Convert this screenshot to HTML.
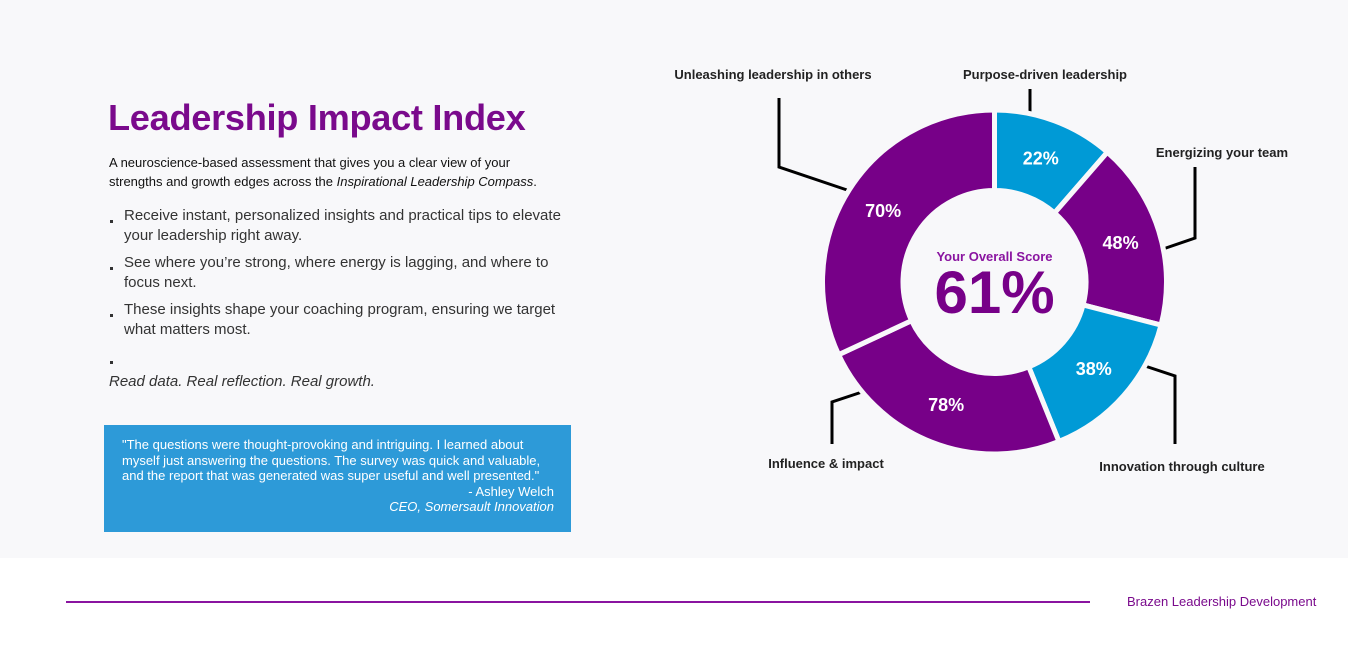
<!DOCTYPE html>
<html><head><meta charset="utf-8"><style>
html,body{margin:0;padding:0;width:1348px;height:645px;overflow:hidden;background:#fff;font-family:"Liberation Sans",Arial,sans-serif}
#top{position:absolute;left:0;top:0;width:1348px;height:558px;background:#f8f8fa}
#footer{position:absolute;left:0;top:558px;width:1346px;height:87px;background:#fff}
h1{position:absolute;left:108px;top:97px;margin:0;font-size:36.2px;font-weight:bold;color:#7a0a8c;letter-spacing:-0.3px}
.intro{position:absolute;left:109px;top:153px;font-size:13px;line-height:19px;color:#111;white-space:nowrap}
ul{position:absolute;left:109px;top:206px;margin:0;padding:0;list-style:none;width:470px}
li{position:relative;padding-left:15px;font-size:15px;line-height:20px;color:#333;margin-bottom:7px}
li:before{content:"";position:absolute;left:1px;top:14px;width:3px;height:3px;background:#333}
.tag{position:absolute;left:109px;top:373px;font-size:15px;font-style:italic;color:#333}
.quote{position:absolute;left:104px;top:425px;width:467px;height:107px;background:#2d9ad8;color:#fff;font-size:13px;line-height:15.5px;box-sizing:border-box;padding:12px 17px 0 18px}
.quote .a{text-align:right}
.brand{position:absolute;left:1127px;top:594px;font-size:13px;color:#7a0a8c}
.rule{position:absolute;left:66px;top:601px;width:1024px;height:2px;background:#8a14a0}
svg{position:absolute;left:0;top:0}
</style></head><body>
<div id="top"></div>
<div id="footer"></div>
<h1>Leadership Impact Index</h1>
<div class="intro">A neuroscience-based assessment that gives you a clear view of your<br>strengths and growth edges across the <i>Inspirational Leadership Compass</i>.</div>
<ul>
<li>Receive instant, personalized insights and practical tips to elevate your leadership right away.</li>
<li>See where you’re strong, where energy is lagging, and where to focus next.</li>
<li>These insights shape your coaching program, ensuring we target what matters most.</li>
<li>&nbsp;</li>
</ul>
<div class="tag">Read data. Real reflection. Real growth.</div>
<div class="quote">"The questions were thought-provoking and intriguing. I learned about myself just answering the questions. The survey was quick and valuable, and the report that was generated was super useful and well presented."<div class="a">- Ashley Welch</div><div class="a"><i>CEO, Somersault Innovation</i></div></div>
<div class="rule"></div>
<div class="brand">Brazen Leadership Development</div>
<svg id="chart" width="1348" height="645"></svg>
<script>
const categories=["Purpose-driven leadership","Energizing your team","Innovation through culture","Influence & impact","Unleashing leadership in others"];
const scores=[22,48,38,78,70];
const spans=[41,63.5,53.5,87,115];
const overall=61;
const NS="http://www.w3.org/2000/svg";
const svg=document.getElementById('chart');
const cx=994.5,cy=282,R=172,r=91.5;
const total=spans.reduce((a,b)=>a+b,0);
function ang(v){return v/total*360;}
function pt(a,rad){const t=(a-90)*Math.PI/180;return [cx+rad*Math.cos(t),cy+rad*Math.sin(t)];}
function mk(tag,attrs){const e=document.createElementNS(NS,tag);for(const k in attrs)e.setAttribute(k,attrs[k]);svg.appendChild(e);return e;}
const leaders=[
 [[1030,89],[1030,113]],
 [[1195,167],[1195,238],[1163,249]],
 [[1145,366],[1175,376],[1175,444]],
 [[832,444],[832,402],[862,392]],
 [[779,98],[779,167],[850,191]]];
leaders.forEach(p=>{const l=mk('polyline',{points:p.map(q=>q.join(',')).join(' '),fill:'none',stroke:'#000','stroke-width':3});

});
let acc=0;
scores.forEach((s,i)=>{
 const a0=ang(acc),a1=ang(acc+spans[i]);acc+=spans[i];
 const col=s<40?'#009ad6':'#770088';
 const [x0,y0]=pt(a0,R),[x1,y1]=pt(a1,R),[x2,y2]=pt(a1,r),[x3,y3]=pt(a0,r);
 const lg=(a1-a0)>180?1:0;
 const p=mk('path',{d:`M${x0},${y0}A${R},${R} 0 ${lg} 1 ${x1},${y1}L${x2},${y2}A${r},${r} 0 ${lg} 0 ${x3},${y3}Z`,fill:col,stroke:'#f8f8fa','stroke-width':5,'stroke-linejoin':'miter'});
 
 
 const [tx,ty]=pt((a0+a1)/2,132);
 const t=mk('text',{x:tx,y:ty+6,'text-anchor':'middle','font-size':18,'font-weight':'bold',fill:'#fff','font-family':'Liberation Sans, sans-serif'});
 t.textContent=s+'%';
 
 
});
mk('circle',{cx:cx,cy:cy,r:r-2.5,fill:'#f8f8fa'});
const labels=[[1045,79],[1222,157],[1182,471],[826,468],[773,79]];
categories.forEach((c,i)=>{const t=mk('text',{x:labels[i][0],y:labels[i][1],'text-anchor':'middle','font-size':13,'font-weight':'bold',fill:'#222','font-family':'Liberation Sans, sans-serif'});
t.textContent=c;

});
const st=mk('text',{x:cx,y:261,'text-anchor':'middle','font-size':13,'font-weight':'bold',fill:'#8a14a0','font-family':'Liberation Sans, sans-serif'});
st.textContent='Your Overall Score';


const sv=mk('text',{x:cx,y:313,'text-anchor':'middle','font-size':60,'font-weight':'bold',fill:'#770088','font-family':'Liberation Sans, sans-serif'});
sv.textContent=overall+'%';


</script>
</body></html>
